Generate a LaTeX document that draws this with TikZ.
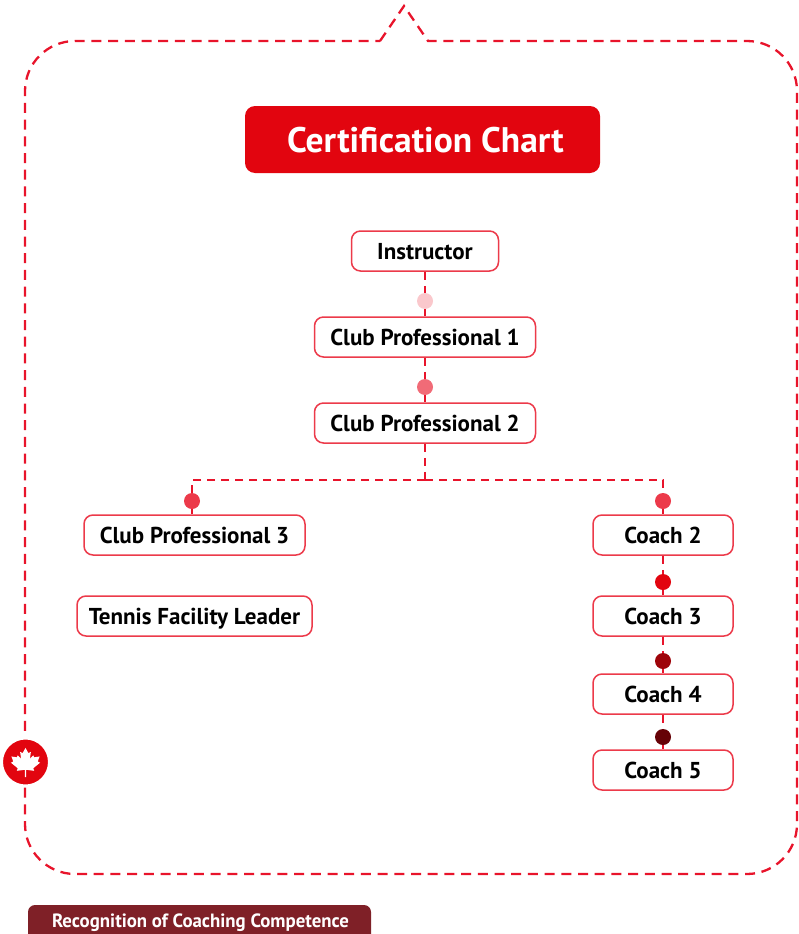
\documentclass[tikz,border=0pt]{standalone}
\usepackage{fontspec}
\setmainfont{PT Sans}
\newfontfamily\tagfont[BoldFeatures={FakeStretch=0.98}]{PT Sans}
\newfontfamily\titlefont{PT Sans}
\definecolor{frame}{HTML}{E8142B}
\definecolor{boxline}{HTML}{EC3A4A}
\definecolor{titlered}{HTML}{E2050F}
\definecolor{tagred}{HTML}{7F2027}
\tikzset{
  x=1pt,y=-1pt,
  framepath/.style={draw=frame,line width=2.3pt,dash pattern=on 10pt off 6.7pt},
  link/.style={draw=frame,line width=2.3pt,dash pattern=on 8pt off 6pt},
  certbox/.style={draw=boxline,fill=white,line width=1.5pt,rounded corners=9pt,minimum height=40pt,inner sep=0pt,font=\bfseries\fontsize{23}{23}\selectfont,text=black,text height=16pt,text depth=0pt},
  dotmark/.style={circle,inner sep=0pt,minimum size=16pt},
}
\begin{document}
\begin{tikzpicture}
\useasboundingbox (0,0) rectangle (799,934);
% outer frame
\draw[framepath] (380,41) -- (404,6) -- (428,41) [rounded corners=50pt] -- (797,41) -- (797,874) -- (25,874) -- (25,41) -- (380,41);
% title
\node[fill=titlered,rounded corners=10pt,minimum width=355pt,minimum height=67pt,inner sep=0pt] (titlebox) at (422.5,139.5) {};
\node[text=white,inner sep=0pt,font=\titlefont\bfseries\fontsize{35.5}{35.5}\selectfont,text height=25pt,text depth=0pt] (title) at (425.5,140) {Certification Chart};
% connector ends
\node[dotmark] (d1) at (425,301) {};
\node[dotmark] (d2) at (425,387) {};
\node[dotmark] (d3) at (192,501) {};
\node[dotmark] (d4) at (663,501) {};
\node[dotmark] (d5) at (663,582) {};
\node[dotmark] (d6) at (663,661) {};
\node[dotmark] (d7) at (663,737) {};
\coordinate (junction) at (425,480);
% boxes
\node[certbox,minimum width=147pt] (instr) at (425,251) {Instructor};
\node[certbox,minimum width=221pt] (cp1) at (425,337) {Club Professional 1};
\node[certbox,minimum width=221pt] (cp2) at (425,423) {Club Professional 2};
\node[certbox,minimum width=221pt] (cp3) at (194.5,535) {Club Professional 3};
\node[certbox,minimum width=235pt] (tfl) at (194.5,616) {Tennis Facility Leader};
\node[certbox,minimum width=140pt] (c2) at (663,535) {Coach 2};
\node[certbox,minimum width=140pt] (c3) at (663,616) {Coach 3};
\node[certbox,minimum width=140pt] (c4) at (663,694) {Coach 4};
\node[certbox,minimum width=140pt] (c5) at (663,770) {Coach 5};
% connectors
\path[link] (instr.south) -- (d1);
\path[link] (d1) -- (cp1.north);
\path[link] (cp1.south) -- (d2);
\path[link] (d2) -- (cp2.north);
\path[link] (cp2.south) -- (junction);
\path[link] (junction) -| (d3);
\path[link] (junction) -| (d4);
\path[link] (d3) -- (d3 |- cp3.north);
\path[link] (d4) -- (c2.north);
\path[link] (c2.south) -- (d5);
\path[link] (d5) -- (c3.north);
\path[link] (c3.south) -- (d6);
\path[link] (d6) -- (c4.north);
\path[link] (c4.south) -- (d7);
\path[link] (d7) -- (c5.north);
% dots
\fill[boxline!28!white] (d1) circle (8pt);
\fill[boxline!75!white] (d2) circle (8pt);
\fill[boxline] (d3) circle (8pt);
\fill[boxline] (d4) circle (8pt);
\fill[titlered] (d5) circle (8pt);
\fill[black!30!titlered] (d6) circle (8pt);
\fill[black!55!titlered] (d7) circle (8pt);
% maple leaf badge
\node[circle,fill=titlered,draw=white,line width=2.5pt,minimum size=47.5pt,inner sep=0pt] (badge) at (25.5,762) {};
\fill[white,shift={(25.5,762.5)},scale=1.04] (0,-14) -- (2.8,-9) -- (5.2,-10.3) -- (4.2,-3.5) -- (7.5,-6.8) -- (8.4,-5) -- (13.5,-5.8) -- (11.8,-1) -- (14,0.2) -- (7.5,5.5) -- (8.3,8) -- (0.7,7) -- (0.7,14) -- (-0.7,14) -- (-0.7,7) -- (-8.3,8) -- (-7.5,5.5) -- (-14,0.2) -- (-11.8,-1) -- (-13.5,-5.8) -- (-8.4,-5) -- (-7.5,-6.8) -- (-4.2,-3.5) -- (-5.2,-10.3) -- (-2.8,-9) -- cycle;
% bottom tag
\begin{scope}
\clip (0,0) rectangle (799,934);
\node[fill=tagred,rounded corners=7pt,minimum width=343pt,minimum height=42pt,inner sep=0pt] (tagbox) at (199.5,926) {};
\end{scope}
\node[text=white,inner sep=0pt,font=\tagfont\bfseries\fontsize{19.2}{19.2}\selectfont,text height=13pt,text depth=0pt] (tag) at (200.5,920.5) {Recognition of Coaching Competence};
\end{tikzpicture}
\end{document}
